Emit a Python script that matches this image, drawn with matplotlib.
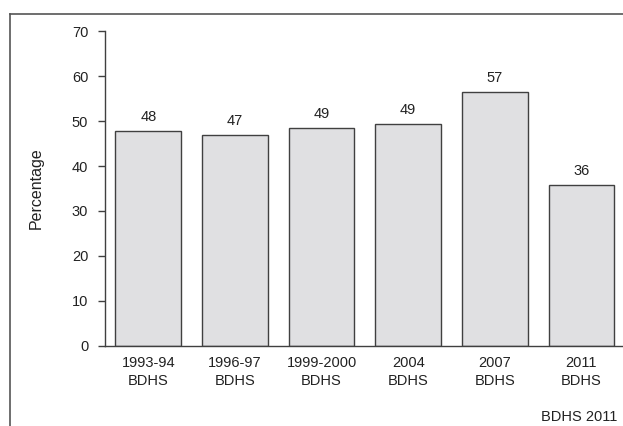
import matplotlib.pyplot as plt
from matplotlib.lines import Line2D

plt.rcParams['font.family'] = ['Liberation Sans', 'DejaVu Sans']

# Data
surveys = ["1993-94\nBDHS", "1996-97\nBDHS", "1999-2000\nBDHS", "2004\nBDHS", "2007\nBDHS", "2011\nBDHS"]
values = [47.7, 47.0, 48.5, 49.4, 56.5, 35.8]
labels = ["48", "47", "49", "49", "57", "36"]

fig = plt.figure(figsize=(6.23, 4.26), dpi=100)
ax = fig.add_axes([0.1685, 0.188, 0.8315, 0.739])

x = range(len(surveys))
bars = ax.bar(x, values, width=0.76, color="#e0e0e2", edgecolor="#404040", linewidth=1.0)
ax.bar_label(bars, labels=labels, padding=5, fontsize=10.5, color="#222222")

ax.set_xlim(-0.5, 5.48)
ax.set_ylim(0, 70)
ax.set_yticks(range(0, 71, 10))
ax.set_xticks(list(x))
ax.set_xticklabels(surveys, fontsize=10.5, color="#222222", linespacing=1.4)
ax.tick_params(axis="x", length=0, pad=7)
ax.tick_params(axis="y", length=5, width=1, color="#404040", labelsize=10.5, labelcolor="#222222", pad=7)
ax.set_ylabel("Percentage", fontsize=11.5, color="#222222", labelpad=20)

for side in ["top", "right"]:
    ax.spines[side].set_visible(False)
for side in ["left", "bottom"]:
    ax.spines[side].set_color("#404040")
    ax.spines[side].set_linewidth(1.0)

# outer frame (top and left edge of the figure box)
fig.add_artist(Line2D([10 / 623, 1.0], [1 - 14 / 426, 1 - 14 / 426], color="#555555", linewidth=1.2))
fig.add_artist(Line2D([10 / 623, 10 / 623], [0, 1 - 14 / 426], color="#555555", linewidth=1.2))

fig.text(0.868, 0.021, "BDHS 2011", fontsize=10.5, color="#222222", ha="left", va="center")

fig.savefig("out.png", dpi=100)
